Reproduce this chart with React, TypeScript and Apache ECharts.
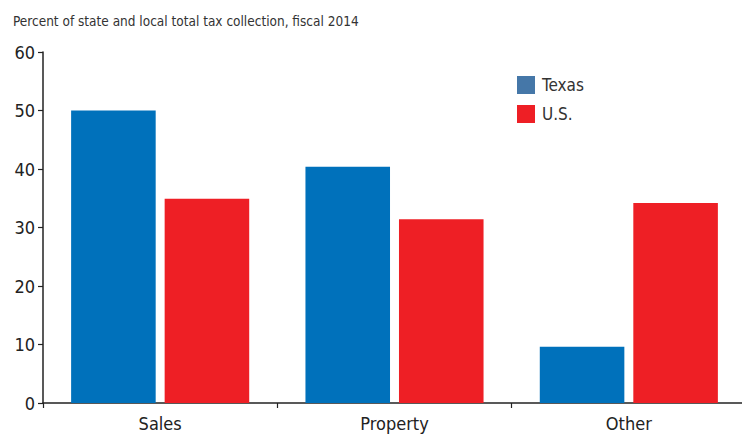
import React, { useEffect, useRef } from "react";
import * as echarts from "echarts";

const categories = ["Sales", "Property", "Other"];
const texasValues = [50, 40.4, 9.6];
const usValues = [34.9, 31.4, 34.2];
const yTicks = [0, 10, 20, 30, 40, 50, 60];

const FONT = "'Liberation Sans Narrow', 'DejaVu Sans Condensed', 'Roboto', sans-serif";

export default function App() {
  const ref = useRef<HTMLDivElement>(null);
  useEffect(() => {
    if (!ref.current) return;
    const chart = echarts.init(ref.current, undefined, { renderer: "svg" });
    chart.setOption({
      animation: false,
      title: {
        text: "Percent of state and local total tax collection, fiscal 2014",
        left: 8,
        top: 9,
        textStyle: { fontFamily: FONT, fontSize: 13.5, fontWeight: "normal", color: "#333" },
      },
      legend: {
        orient: "vertical",
        left: 512,
        top: 71,
        itemWidth: 18,
        itemHeight: 18,
        itemGap: 11,
        icon: "rect",
        textStyle: { fontFamily: FONT, fontSize: 17, color: "#333", padding: [0, 0, 0, 2] },
        data: [
          { name: "Texas", itemStyle: { color: "#4577A8" } },
          { name: "U.S.", itemStyle: { color: "#EE1F25" } },
        ],
      },
      grid: { left: 43, top: 52, right: 0, bottom: 32, containLabel: false },
      xAxis: {
        type: "category",
        data: categories,
        axisLine: { lineStyle: { color: "#222", width: 1.5 } },
        axisTick: { show: true, length: 5, lineStyle: { color: "#222", width: 1.2 } },
        axisLabel: { fontFamily: FONT, fontSize: 18, color: "#222", margin: 11 },
      },
      yAxis: {
        type: "value",
        min: 0,
        max: 60,
        interval: 10,
        axisLine: { show: true, lineStyle: { color: "#222", width: 1.5 } },
        axisTick: { show: true, length: 5, lineStyle: { color: "#222", width: 1.2 } },
        splitLine: { show: false },
        axisLabel: {
          fontFamily: FONT,
          fontSize: 18,
          color: "#222",
          margin: 8,
          formatter: (v: number) => (yTicks.includes(v) ? String(v) : ""),
        },
      },
      series: [
        {
          name: "Texas",
          type: "bar",
          data: texasValues,
          itemStyle: { color: "#0071BB" },
          barGap: "10.6%",
          barCategoryGap: "24%",
        },
        {
          name: "U.S.",
          type: "bar",
          data: usValues,
          itemStyle: { color: "#EE1F25" },
        },
      ],
    });
    return () => chart.dispose();
  }, []);
  return (
    <div
      style={{
        position: "fixed",
        left: 0,
        top: 0,
        width: 742,
        height: 435,
        overflow: "hidden",
        background: "#fff",
      }}
    >
      <div ref={ref} style={{ width: 746, height: 435 }} />
    </div>
  );
}
